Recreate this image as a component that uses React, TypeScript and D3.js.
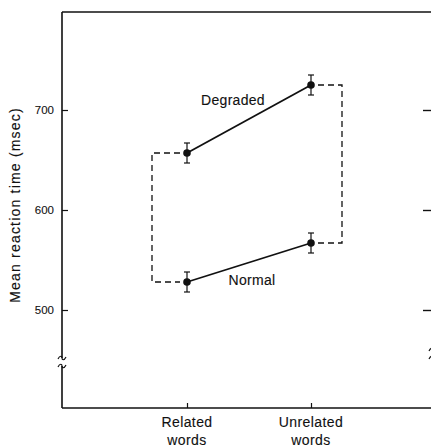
import { useEffect, useRef } from 'react'
import * as d3 from 'd3'

const categories = ['Related', 'Unrelated']
const degraded = [657, 725]
const normal = [528, 567]
const errDegraded = [10, 10]
const errNormal = [10, 10]
const yTicks = [500, 600, 700]

export default function App() {
  const svgRef = useRef<SVGSVGElement>(null)

  useEffect(() => {
    if (!svgRef.current) return
    const svg = d3.select(svgRef.current)
    svg.selectAll('*').remove()

    const width = 431
    const height = 447
    const left = 62
    const top = 12
    const bottom = 408
    const right = 435

    svg.attr('width', width).attr('height', height)

    const font = '"Liberation Sans", Arial, sans-serif'
    const ink = '#111'

    const y = d3.scaleLinear().domain([500, 700]).range([310, 110])
    const x = d3.scalePoint<string>().domain(categories).range([left + 1, right]).padding(1)

    // frame
    svg.append('line').attr('x1', left).attr('x2', width).attr('y1', top).attr('y2', top)
      .attr('stroke', ink).attr('stroke-width', 1.6)
    svg.append('line').attr('x1', left).attr('x2', width).attr('y1', bottom).attr('y2', bottom)
      .attr('stroke', ink).attr('stroke-width', 1.6)

    // left axis (ticks point inward)
    const yAxis = d3.axisLeft(y).tickValues(yTicks).tickSize(-6).tickPadding(8).tickFormat(d3.format('d'))
    const gy = svg.append('g').attr('transform', `translate(${left},0)`).call(yAxis)
    gy.select('.domain').remove()
    gy.selectAll('line').attr('stroke', ink).attr('stroke-width', 1.2)
    gy.selectAll('text').attr('font-family', font).attr('font-size', 11.5).attr('fill', ink)
      .attr('stroke', ink).attr('stroke-width', 0.1)
    svg.append('path').attr('d', `M ${left} ${top} V 358 M ${left} 366 V ${bottom}`)
      .attr('stroke', ink).attr('stroke-width', 1.6)

    // right axis ticks
    const yAxisR = d3.axisRight(y).tickValues(yTicks).tickSize(-9).tickFormat(() => '')
    const gr = svg.append('g').attr('transform', `translate(432,0)`).call(yAxisR)
    gr.select('.domain').remove()
    gr.selectAll('line').attr('stroke', ink).attr('stroke-width', 1.4)

    // bottom axis ticks
    const xAxis = d3.axisBottom(x).tickSize(-5).tickFormat(() => '')
    const gx = svg.append('g').attr('transform', `translate(0,${bottom})`).call(xAxis)
    gx.select('.domain').remove()
    gx.selectAll('line').attr('stroke', ink).attr('stroke-width', 1.2)

    const label = (sel: d3.Selection<SVGTextElement, unknown, null, undefined>, spacing: number) =>
      sel.attr('font-family', font).attr('font-size', 14).attr('letter-spacing', spacing)
        .attr('fill', ink).attr('stroke', ink).attr('stroke-width', 0.12)

    // x labels, two lines
    categories.forEach(c => {
      const t = label(svg.append('text').attr('text-anchor', 'middle'), 0.4)
      t.append('tspan').attr('x', x(c)!).attr('y', 427).text(c)
      t.append('tspan').attr('x', x(c)!).attr('y', 445).text('words')
    })

    // y title
    label(svg.append('text'), 1.2)
      .attr('transform', `translate(20,205) rotate(-90)`)
      .attr('text-anchor', 'middle')
      .text('Mean reaction time (msec)')

    // axis break marks
    const tilde = (cx: number, cy: number) =>
      `M ${cx - 4} ${cy + 1} C ${cx - 2} ${cy - 3}, ${cx} ${cy - 2}, ${cx} ${cy} S ${cx + 2} ${cy + 3}, ${cx + 4} ${cy - 1}`
    ;[358, 366].forEach(cy => {
      svg.append('path').attr('d', tilde(left, cy))
        .attr('fill', 'none').attr('stroke', ink).attr('stroke-width', 1.2)
    })
    ;[350, 358].forEach(cy => {
      svg.append('path').attr('d', tilde(433, cy))
        .attr('fill', 'none').attr('stroke', ink).attr('stroke-width', 1.2)
    })

    // dashed brackets
    const xr = x(categories[0])!
    const xu = x(categories[1])!
    const dash = '6,4'
    const bracketL = `M ${xr - 7} ${y(degraded[0])} H ${xr - 35} V ${y(normal[0])} H ${xr - 7}`
    const bracketR = `M ${xu + 7} ${y(degraded[1])} H ${xu + 31} V ${y(normal[1])} H ${xu + 7}`
    ;[bracketL, bracketR].forEach(d => {
      svg.append('path').attr('d', d).attr('fill', 'none')
        .attr('stroke', ink).attr('stroke-width', 1.3).attr('stroke-dasharray', dash)
    })

    // series
    const line = d3.line<number>().x((_, i) => x(categories[i])!).y(d => y(d))
    const series = [
      { vals: degraded, err: errDegraded },
      { vals: normal, err: errNormal },
    ]
    series.forEach(s => {
      svg.append('path').datum(s.vals).attr('d', line)
        .attr('fill', 'none').attr('stroke', ink).attr('stroke-width', 1.8)
      s.vals.forEach((v, i) => {
        const cx = x(categories[i])!
        const e = s.err[i]
        svg.append('line').attr('x1', cx).attr('x2', cx).attr('y1', y(v + e)).attr('y2', y(v - e))
          .attr('stroke', ink).attr('stroke-width', 1.2)
        ;[v + e, v - e].forEach(w => {
          svg.append('line').attr('x1', cx - 3).attr('x2', cx + 3).attr('y1', y(w)).attr('y2', y(w))
            .attr('stroke', ink).attr('stroke-width', 1.2)
        })
        svg.append('circle').attr('cx', cx).attr('cy', y(v)).attr('r', 3.8).attr('fill', ink)
      })
    })

    // series labels
    label(svg.append('text'), 0.3).attr('x', 233).attr('y', 105)
      .attr('text-anchor', 'middle').text('Degraded')
    label(svg.append('text'), 0.3).attr('x', 252).attr('y', 285)
      .attr('text-anchor', 'middle').text('Normal')
  }, [])

  return (
    <div style={{ position: 'absolute', left: 0, top: 0, background: '#fff' }}>
      <svg ref={svgRef} style={{ display: 'block' }}></svg>
    </div>
  )
}
